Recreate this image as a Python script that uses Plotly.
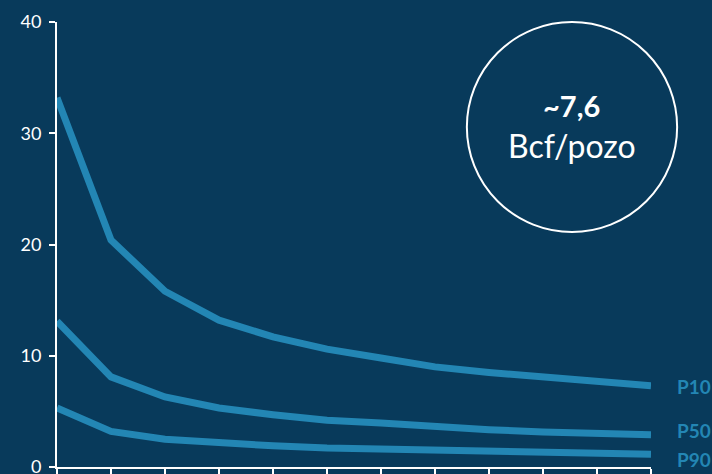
import plotly.graph_objects as go

periods = list(range(12))
p10 = [33.2, 20.4, 15.8, 13.2, 11.7, 10.6, 9.8, 9.0, 8.5, 8.15, 7.75, 7.3]
p50 = [13.1, 8.1, 6.3, 5.3, 4.7, 4.2, 3.95, 3.6, 3.35, 3.15, 3.0, 2.9]
p90 = [5.3, 3.2, 2.5, 2.15, 1.9, 1.7, 1.6, 1.45, 1.38, 1.3, 1.23, 1.15]
series_names = ["P10", "P50", "P90"]
y_ticks = [0, 10, 20, 30, 40]
badge_value = "~7,6"
badge_unit = "Bcf/pozo"

BG = "#083A5B"
LINE = "#2386B4"
FONT = "Lato"

fig = go.Figure()
label_shift = {"P10": -1, "P50": 4, "P90": -5}
for name, ys in zip(series_names, [p10, p50, p90]):
    fig.add_trace(go.Scatter(x=periods, y=ys, mode="lines", name=name,
                             line=dict(color=LINE, width=7), showlegend=False,
                             hoverinfo="skip"))
    fig.add_annotation(x=periods[-1], y=ys[-1], text=f"<b>{name}</b>", showarrow=False,
                       xanchor="left", yanchor="middle", xshift=24, yshift=label_shift[name],
                       font=dict(family=FONT, size=19, color=LINE))

fig.add_shape(type="circle", xref="paper", yref="paper",
              x0=0.690, x1=1.044, y0=0.528, y1=1.0,
              line=dict(color="white", width=2))
fig.add_annotation(xref="paper", yref="paper", x=0.867, y=0.812,
                   xanchor="center", yanchor="middle",
                   text=f"<b>{badge_value}</b>", showarrow=False,
                   font=dict(family=FONT, size=29, color="white"))
fig.add_annotation(xref="paper", yref="paper", x=0.867, y=0.722,
                   xanchor="center", yanchor="middle",
                   text=badge_unit, showarrow=False,
                   font=dict(family=FONT, size=32, color="white"))

fig.update_layout(
    width=712, height=474,
    margin=dict(l=57, r=61, t=22, b=7, autoexpand=False),
    paper_bgcolor=BG, plot_bgcolor=BG,
    font=dict(family=FONT, color="white"),
    xaxis=dict(range=[0, 11], tickmode="array", tickvals=periods, showticklabels=False,
               ticks="outside", ticklen=8, tickwidth=2, tickcolor="white", automargin=False,
               showline=True, linecolor="white", linewidth=2, showgrid=False, zeroline=False),
    yaxis=dict(range=[0, 40], tickmode="array", tickvals=y_ticks, automargin=False,
               ticks="outside", ticklen=6, tickwidth=2, tickcolor="white",
               ticklabeloverflow="allow", ticklabelstandoff=4,
               showline=True, linecolor="white", linewidth=2, showgrid=False, zeroline=False,
               tickfont=dict(family=FONT, size=18, color="white")),
)

fig.write_html("out.html", config={"displayModeBar": False},
               post_script="document.body.style.margin='0';document.body.style.background='#083A5B';")
